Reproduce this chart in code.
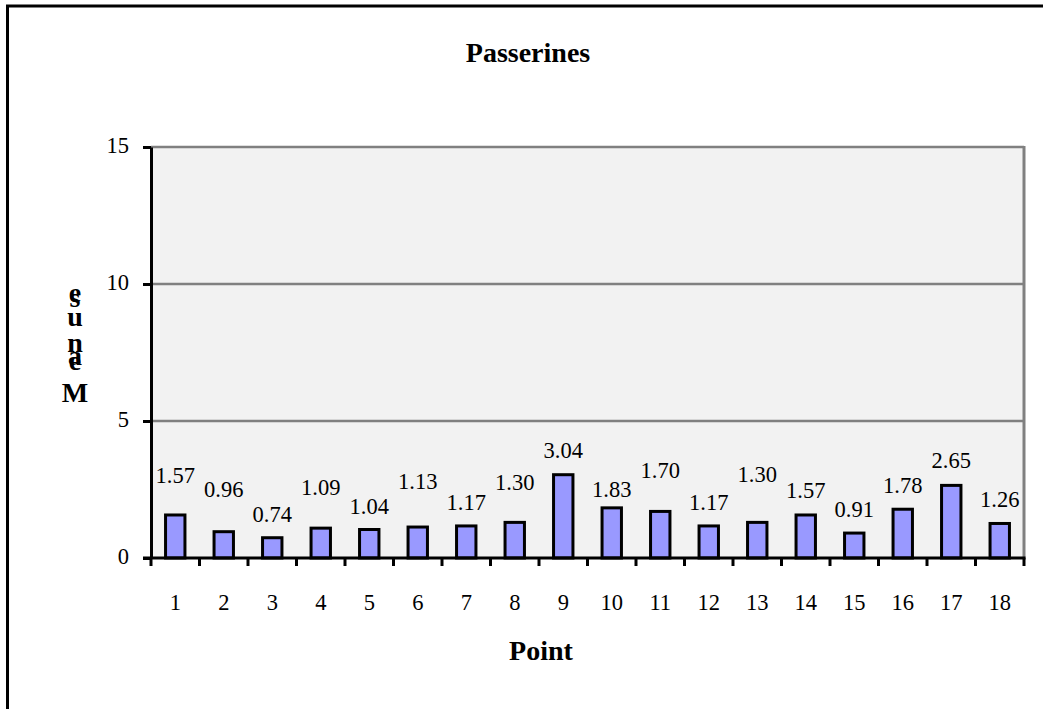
<!DOCTYPE html>
<html>
<head>
<meta charset="utf-8">
<script src="https://cdn.jsdelivr.net/npm/d3@7"></script>
<style>
  body { margin: 0; background: #fff; }
  text { font-family: 'Liberation Serif', 'Times New Roman', serif; fill: #000; }
</style>
</head>
<body>
<div id="chart"></div>
<script>
// data
const points = ['1', '2', '3', '4', '5', '6', '7', '8', '9', '10', '11', '12', '13', '14', '15', '16', '17', '18']
const means = [1.57, 0.96, 0.74, 1.09, 1.04, 1.13, 1.17, 1.30, 3.04, 1.83, 1.70, 1.17, 1.30, 1.57, 0.91, 1.78, 2.65, 1.26]
const yTicks = [0, 5, 10, 15]

// extra lift (px) of some value labels, as they sit in the original
const labelLift = [16, 19, 0, 17, 0, 22, 0, 16, 1, -5, 17, 0, 24, 1, 0, 0, 1, 0]
// the y title is stacked letters that overlap in the original
const yTitleLetters = ['e', 's', 'u', 'n', 'a', 'e', 'M']
const yTitleBase = [302, 307, 326, 352, 365, 370, 402]

const W = 1043
const H = 709
const plot = { left: 151, right: 1024, top: 147, bottom: 558 }

const svg = d3
  .select('#chart')
  .append('svg')
  .attr('width', W)
  .attr('height', H)

// outer frame (right and bottom edges fall outside the picture)
svg
  .append('rect')
  .attr('x', 7.5)
  .attr('y', 6)
  .attr('width', W + 20)
  .attr('height', H + 20)
  .attr('fill', 'none')
  .attr('stroke', '#000')
  .attr('stroke-width', 3)

const x = d3
  .scaleBand()
  .domain(points)
  .range([plot.left, plot.right])
  .paddingInner(0.6)
  .paddingOuter(0.3)

const y = d3
  .scaleLinear()
  .domain([0, 15])
  .range([plot.bottom, plot.top])

// plot background
svg
  .append('rect')
  .attr('x', plot.left)
  .attr('y', plot.top)
  .attr('width', plot.right - plot.left)
  .attr('height', plot.bottom - plot.top)
  .attr('fill', '#f2f2f2')

// gridlines
svg
  .selectAll('.grid')
  .data(yTicks.filter(d => d > 0))
  .enter()
  .append('line')
  .attr('class', 'grid')
  .attr('x1', plot.left)
  .attr('x2', plot.right)
  .attr('y1', d => y(d))
  .attr('y2', d => y(d))
  .attr('stroke', '#808080')
  .attr('stroke-width', 2.5)

// right border of plot
svg
  .append('line')
  .attr('x1', plot.right)
  .attr('x2', plot.right)
  .attr('y1', plot.top - 1)
  .attr('y2', plot.bottom)
  .attr('stroke', '#808080')
  .attr('stroke-width', 3)

// bars
svg
  .selectAll('.bar')
  .data(means)
  .enter()
  .append('rect')
  .attr('class', 'bar')
  .attr('x', (d, i) => x(points[i]))
  .attr('y', d => y(d))
  .attr('width', x.bandwidth())
  .attr('height', d => y(0) - y(d))
  .attr('fill', '#9999ff')
  .attr('stroke', '#000')
  .attr('stroke-width', 3)

// value labels
svg
  .selectAll('.val')
  .data(means)
  .enter()
  .append('text')
  .attr('class', 'val')
  .attr('x', (d, i) => x(points[i]) + x.bandwidth() / 2)
  .attr('y', (d, i) => y(d) - 16 - labelLift[i])
  .attr('text-anchor', 'middle')
  .style('font-size', '22.5px')
  .text(d => d.toFixed(2))

// y axis
const yAxis = d3
  .axisLeft(y)
  .tickValues(yTicks)
  .tickSize(8)
  .tickPadding(14)
  .tickSizeOuter(0)

const yG = svg
  .append('g')
  .attr('transform', 'translate(' + plot.left + ',0)')
  .call(yAxis)
yG.select('.domain').attr('stroke', '#000').attr('stroke-width', 3)
yG.selectAll('.tick line').attr('stroke-width', 3)
yG
  .selectAll('.tick text')
  .style('font-size', '22.5px')
  .attr('font-family', null)
  .attr('dy', '0.25em')

// x axis: labels centred under bars, ticks on category boundaries
const xAxis = d3
  .axisBottom(x)
  .tickSize(0)
  .tickPadding(36)
  .tickSizeOuter(0)

const xG = svg
  .append('g')
  .attr('transform', 'translate(0,' + plot.bottom + ')')
  .call(xAxis)
xG.select('.domain').remove()
xG
  .selectAll('.tick text')
  .style('font-size', '22.5px')
  .attr('font-family', null)

const step = x.step()
const bounds = d3.range(points.length + 1).map(i => plot.left + i * step)
svg
  .selectAll('.xtick')
  .data(bounds)
  .enter()
  .append('line')
  .attr('class', 'xtick')
  .attr('x1', d => d)
  .attr('x2', d => d)
  .attr('y1', plot.bottom)
  .attr('y2', plot.bottom + 8)
  .attr('stroke', '#000')
  .attr('stroke-width', 3)

svg
  .append('line')
  .attr('x1', plot.left - 8)
  .attr('x2', plot.right + 1.5)
  .attr('y1', plot.bottom)
  .attr('y2', plot.bottom)
  .attr('stroke', '#000')
  .attr('stroke-width', 3)

// titles
svg
  .append('text')
  .attr('x', 528)
  .attr('y', 62)
  .attr('text-anchor', 'middle')
  .style('font-size', '28px')
  .style('font-weight', 'bold')
  .text('Passerines')

svg
  .append('text')
  .attr('x', 541)
  .attr('y', 660)
  .attr('text-anchor', 'middle')
  .style('font-size', '28px')
  .style('font-weight', 'bold')
  .text('Point')

// stacked y title, one text element
svg
  .append('text')
  .attr('text-anchor', 'middle')
  .style('font-size', '28px')
  .style('font-weight', 'bold')
  .selectAll('tspan')
  .data(yTitleLetters)
  .enter()
  .append('tspan')
  .attr('x', 75)
  .attr('y', (d, i) => yTitleBase[i])
  .text(d => d)
</script>
</body>
</html>
